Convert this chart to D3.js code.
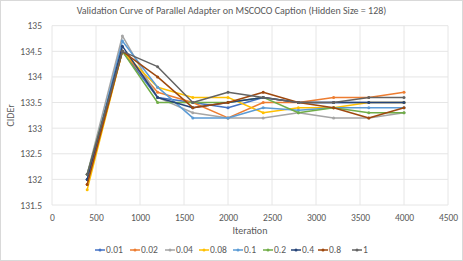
<!DOCTYPE html>
<html lang="en">
<head>
  <meta charset="utf-8">
  <title>Validation Curve</title>
  <script src="https://cdn.jsdelivr.net/npm/d3@7"></script>
  <style>
    body { margin: 0; background: #fff; }
    text { font-family: Carlito, "Liberation Sans", "Open Sans", sans-serif; fill: #595959; }
  </style>
</head>
<body>
  <script>
    // data
    const iterations = [400, 800, 1200, 1600, 2000, 2400, 2800, 3200, 3600, 4000];
    const seriesNames = ["0.01", "0.02", "0.04", "0.08", "0.1", "0.2", "0.4", "0.8", "1"];
    const seriesColors = ["#4472C4", "#ED7D31", "#A5A5A5", "#FFC000", "#5B9BD5", "#70AD47", "#264478", "#9E480E", "#636363"];
    const s001 = [132.0, 134.5, 133.6, 133.5, 133.4, 133.6, 133.5, 133.5, 133.5, 133.5];
    const s002 = [131.9, 134.5, 133.7, 133.5, 133.2, 133.5, 133.5, 133.6, 133.6, 133.7];
    const s004 = [132.1, 134.8, 133.6, 133.3, 133.2, 133.2, 133.3, 133.2, 133.2, 133.3];
    const s008 = [131.8, 134.5, 133.8, 133.6, 133.6, 133.3, 133.4, 133.4, 133.5, 133.5];
    const s01 = [132.0, 134.7, 133.8, 133.2, 133.2, 133.4, 133.35, 133.4, 133.4, 133.4];
    const s02 = [132.1, 134.5, 133.5, 133.5, 133.5, 133.6, 133.3, 133.4, 133.3, 133.3];
    const s04 = [132.0, 134.6, 133.6, 133.4, 133.5, 133.6, 133.5, 133.5, 133.5, 133.5];
    const s08 = [131.9, 134.5, 134.0, 133.4, 133.5, 133.7, 133.5, 133.4, 133.2, 133.4];
    const s1 = [132.1, 134.5, 134.2, 133.5, 133.7, 133.6, 133.5, 133.5, 133.6, 133.6];
    const allSeries = [s001, s002, s004, s008, s01, s02, s04, s08, s1];
    const xTicks = [0, 500, 1000, 1500, 2000, 2500, 3000, 3500, 4000, 4500];
    const yTicks = [131.5, 132, 132.5, 133, 133.5, 134, 134.5, 135];

    const width = 463, height = 261;
    const margin = { top: 25.7, right: 15, bottom: 56, left: 52 };
    const innerWidth = width - margin.left - margin.right;
    const innerHeight = height - margin.top - margin.bottom;

    const svg = d3.select("body").append("svg")
      .attr("width", width).attr("height", height);
    svg.append("rect").attr("x", 0.5).attr("y", 0.5)
      .attr("width", width - 1).attr("height", height - 1)
      .style("fill", "#fff").style("stroke", "#d9d9d9");

    const g = svg.append("g").attr("transform", `translate(${margin.left},${margin.top})`);

    const x = d3.scaleLinear().domain([0, 4500]).range([0, innerWidth]);
    const y = d3.scaleLinear().domain([131.5, 135]).range([innerHeight, 0]);

    // grid
    g.append("g").selectAll("line").data(yTicks).join("line")
      .attr("x1", 0).attr("x2", innerWidth)
      .attr("y1", d => y(d)).attr("y2", d => y(d))
      .style("stroke", "#e6e6e6").style("stroke-width", 1);
    g.append("g").selectAll("line").data(xTicks).join("line")
      .attr("y1", 0).attr("y2", innerHeight)
      .attr("x1", d => x(d)).attr("x2", d => x(d))
      .style("stroke", "#e6e6e6").style("stroke-width", 1);

    // axes
    const xAxis = g.append("g").attr("transform", `translate(0,${innerHeight})`)
      .call(d3.axisBottom(x).tickValues(xTicks).tickFormat(d3.format("d")).tickSize(0).tickPadding(9));
    const yAxis = g.append("g")
      .call(d3.axisLeft(y).tickValues(yTicks).tickFormat(d3.format("")).tickSize(0).tickPadding(10));
    [xAxis, yAxis].forEach(a => {
      a.select(".domain").remove();
      a.attr("font-family", null).attr("font-size", null);
      a.selectAll("text").style("font-size", "9.5px").style("fill", "#595959");
    });

    // lines
    const line = d3.line().x((d, i) => x(iterations[i])).y(d => y(d));
    allSeries.forEach((vals, k) => {
      g.append("path").datum(vals)
        .attr("d", line)
        .style("fill", "none")
        .style("stroke", seriesColors[k])
        .style("stroke-width", 1.5)
        .style("stroke-linejoin", "round");
      g.append("g").selectAll("circle").data(vals).join("circle")
        .attr("cx", (d, i) => x(iterations[i])).attr("cy", d => y(d))
        .attr("r", 1.5)
        .style("fill", seriesColors[k]);
    });

    // titles
    svg.append("text").attr("x", width / 2).attr("y", 14)
      .attr("text-anchor", "middle").style("font-size", "10px")
      .text("Validation Curve of Parallel Adapter on MSCOCO Caption (Hidden Size = 128)");
    svg.append("text").attr("x", margin.left + innerWidth / 2).attr("y", 234)
      .attr("text-anchor", "middle").style("font-size", "10px")
      .text("Iteration");
    svg.append("text")
      .attr("transform", `translate(14,${margin.top + innerHeight / 2}) rotate(-90)`)
      .attr("text-anchor", "middle").style("font-size", "10px")
      .text("CIDEr");

    // legend
    const legendX = [95, 130, 165, 199, 233, 263, 291, 318, 352];
    const legend = svg.append("g").attr("transform", "translate(0,250)");
    seriesNames.forEach((name, k) => {
      const item = legend.append("g").attr("transform", `translate(${legendX[k]},0)`);
      item.append("line").attr("x1", 0).attr("x2", 10).attr("y1", 0).attr("y2", 0)
        .style("stroke", seriesColors[k]).style("stroke-width", 1.5);
      item.append("circle").attr("cx", 5).attr("cy", 0).attr("r", 1.5).style("fill", seriesColors[k]);
      item.append("text").attr("x", 11).attr("y", 3.3).style("font-size", "9.5px").text(name);
    });
  </script>
</body>
</html>
